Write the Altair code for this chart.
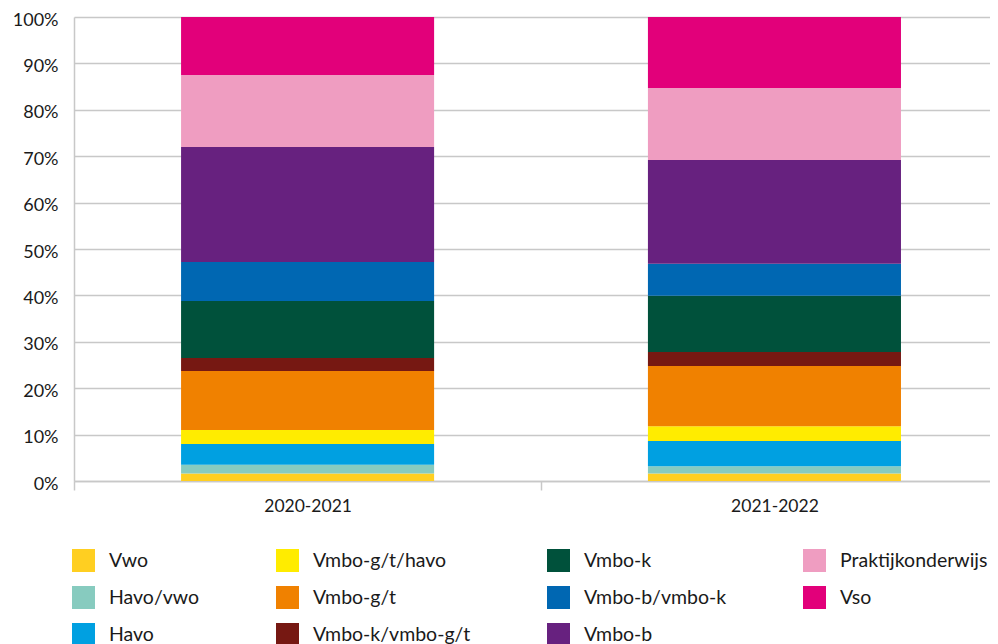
import altair as alt
import pandas as pd

years = ["2020-2021", "2021-2022"]
categories = ["Vwo", "Havo/vwo", "Havo", "Vmbo-g/t/havo", "Vmbo-g/t",
              "Vmbo-k/vmbo-g/t", "Vmbo-k", "Vmbo-b/vmbo-k", "Vmbo-b",
              "Praktijkonderwijs", "Vso"]
values_2020 = [1.6, 1.9, 4.5, 3.0, 12.7, 2.8, 12.3, 8.4, 24.8, 15.5, 12.5]
values_2021 = [1.6, 1.6, 5.4, 3.2, 13.0, 3.0, 12.1, 6.9, 22.4, 15.5, 15.3]
colors = ["#FFCF21", "#87CBBF", "#00A0E1", "#FFEC00", "#F08100",
          "#761812", "#00513B", "#0067B2", "#67217F", "#EF9DC1", "#E2007A"]

rows = []
for yr, vals in zip(years, [values_2020, values_2021]):
    for i, (c, v) in enumerate(zip(categories, vals)):
        rows.append({"jaar": yr, "type": c, "pct": v, "ord": i})
df = pd.DataFrame(rows)

FONT = "Lato"
GRID = "#c8c8c8"
PAD_IN = 0.458
HALF_GAP = 107  # half of the gap between bands, in px

chart = alt.Chart(df).mark_bar(strokeWidth=0).encode(
    x=alt.X("jaar:N", title=None,
            scale=alt.Scale(paddingInner=PAD_IN, paddingOuter=0.21, align=0.546),
            axis=alt.Axis(labelAngle=0, bandPosition=0,
                          tickOffset=-HALF_GAP, labelOffset=HALF_GAP,
                          ticks=True, tickSize=9,
                          tickColor=GRID, tickWidth=1.5, domainColor=GRID,
                          domainWidth=1.5, labelFont=FONT, labelFontSize=17.5,
                          labelColor="#1a1a1a", labelPadding=7, grid=False)),
    y=alt.Y("pct:Q", title=None, stack="zero",
            scale=alt.Scale(domain=[0, 100], nice=False),
            axis=alt.Axis(values=list(range(0, 101, 10)),
                          labelExpr="datum.value + '%'", ticks=False,
                          domainColor=GRID, domainWidth=1.5,
                          gridColor=GRID, gridWidth=1.5,
                          labelFont=FONT, labelFontSize=18, labelColor="#1a1a1a",
                          labelPadding=16, labelOffset=3)),
    color=alt.Color("type:N",
                    scale=alt.Scale(domain=categories, range=colors),
                    legend=alt.Legend(title=None, orient="none", legendX=-2, legendY=532,
                                      columns=4, columnPadding=76,
                                      rowPadding=14, symbolType="square",
                                      symbolSize=529, symbolStrokeWidth=0,
                                      labelOffset=14, labelFont=FONT,
                                      labelFontSize=19.5, labelColor="#1a1a1a",
                                      padding=0, labelLimit=300)),
    order=alt.Order("ord:Q", sort="ascending"),
).properties(
    width=916, height=464,
    autosize=alt.AutoSizeParams(type="none"),
    padding={"left": 66, "top": 9, "right": 0, "bottom": 170},
).configure_view(stroke=None)

chart.save("out.html", embed_options={"renderer": "svg", "actions": False})
